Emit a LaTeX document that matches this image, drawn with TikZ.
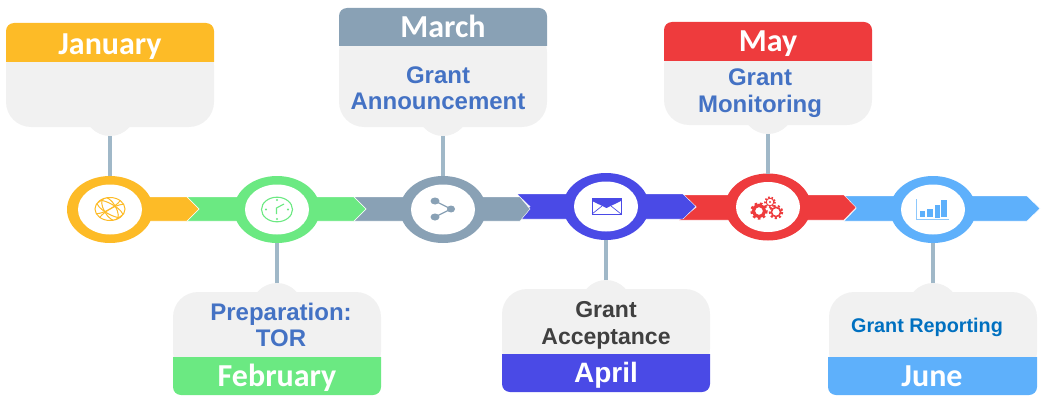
\documentclass[tikz,border=0pt]{standalone}
\usepackage{fontspec}
\setmainfont{Liberation Sans}
\newfontfamily\monthfont{Carlito}
\usetikzlibrary{shapes.geometric,positioning}

\definecolor{janc}{HTML}{FDBB27}
\definecolor{febc}{HTML}{6BE982}
\definecolor{marc}{HTML}{89A1B5}
\definecolor{aprc}{HTML}{4A4AE6}
\definecolor{mayc}{HTML}{EE3B3D}
\definecolor{junc}{HTML}{5EB0FB}
\definecolor{cardc}{HTML}{F1F1F1}
\definecolor{linkc}{HTML}{A0B8C8}
\definecolor{taskc}{HTML}{4472C4}
\definecolor{reportc}{HTML}{0070C0}

\begin{document}
\begin{tikzpicture}[
		x=1pt, y=-1pt,
		% Styles
		cardbody/.style={rectangle, fill=cardc, rounded corners=25pt, minimum width=208pt, inner sep=0pt, outer sep=0pt},
		cardtab/.style={circle, fill=cardc, minimum size=52pt, inner sep=0pt, outer sep=0pt},
		hub/.style={ellipse, minimum width=86pt, minimum height=67pt, inner sep=0pt, outer sep=0pt},
		hole/.style={ellipse, fill=white, minimum width=64pt, minimum height=50pt, inner sep=0pt, outer sep=0pt},
		month/.style={font=\monthfont\fontsize{32}{35}\selectfont\bfseries, text=white, inner sep=0pt},
		task/.style={font=\fontsize{24}{26.5}\selectfont\bfseries, text=taskc, align=center, inner sep=0pt},
		band/.style={draw=white, line width=0.4pt},
		% Arrows
		link/.style={line width=3.7pt, linkc},
		]
		\useasboundingbox (0,0) rectangle (1046,396);

		% Cards above the line
		\node[cardtab] (tab1) at (110,110) {};
		\node[cardbody, minimum height=87pt] (body1) at (110,83.5) {};
		\fill[janc] (6,62) {[rounded corners=8pt] -- (6,23) -- (214,23)} -- (214,62) -- cycle;
		\node[month] (head1) at (110,46.5) {January};

		\node[cardtab] (tab3) at (443,110) {};
		\node[cardbody, minimum height=100pt] (body3) at (443,77) {};
		\fill[marc] (339,46) {[rounded corners=8pt] -- (339,8) -- (547,8)} -- (547,46) -- cycle;
		\node[month] (head3) at (443,26) {March};
		\node[task] (text3) at (438,88) {Grant\\Announcement};

		\node[cardtab] (tab5) at (768,108) {};
		\node[cardbody, minimum height=85pt] (body5) at (768,82.5) {};
		\fill[mayc] (664,61) {[rounded corners=8pt] -- (664,22) -- (872,22)} -- (872,61) -- cycle;
		\node[month] (head5) at (768,44) {May};
		\node[task, font=\fontsize{24}{27}\selectfont\bfseries] (text5) at (760,93.5) {Grant\\Monitoring};

		% Cards below the line
		\node[cardtab] (tab2) at (277,309) {};
		\node[cardbody, minimum height=85pt] (body2) at (277,334.5) {};
		\fill[febc] (173,357) {[rounded corners=8pt] -- (173,395) -- (381,395)} -- (381,357) -- cycle;
		\node[month] (head2) at (277,378) {February};
		\node[task] (text2) at (281,325) {Preparation:\\TOR};

		\node[cardtab] (tab4) at (606,306) {};
		\node[cardbody, minimum height=85pt] (body4) at (606,331.5) {};
		\fill[aprc] (502,354) {[rounded corners=8pt] -- (502,392) -- (710,392)} -- (710,354) -- cycle;
		\node[month, font=\fontsize{28}{30}\selectfont\bfseries] (head4) at (606,375) {April};
		\node[task, font=\fontsize{23}{27}\selectfont\bfseries, text=black!75] (text4) at (606,325) {Grant\\Acceptance};

		\node[cardtab] (tab6) at (933,309) {};
		\node[cardbody, minimum height=85pt] (body6) at (933,334.5) {};
		\fill[junc] (828,357) {[rounded corners=8pt] -- (828,395) -- (1037,395)} -- (1037,357) -- cycle;
		\node[month] (head6) at (932,376.5) {June};
		\node[task, font=\fontsize{19.8}{22}\selectfont\bfseries, text=reportc] (text6) at (927,327.5) {Grant Reporting};

		% Bands, last month first
		\fill[junc, band] (844,196) -- (856,208.5) -- (844,221) -- (1027,221) -- (1040,208.5) -- (1027,196) -- cycle;
		\fill[mayc, band] (679,195) -- (696,207.5) -- (679,220) -- (844,220) -- (856,207.5) -- (844,195) -- cycle;
		\fill[aprc, band] (517,194) -- (530,206.5) -- (517,219) -- (683,219) -- (696,206.5) -- (683,194) -- cycle;
		\fill[marc, band] (354,197) -- (366,209) -- (354,221) -- (520,221) -- (530,209) -- (520,197) -- cycle;
		\fill[febc, band] (187,197) -- (199,209) -- (187,221) -- (354,221) -- (366,209) -- (354,197) -- cycle;
		\fill[janc, band] (110,197) -- (187,197) -- (199,209) -- (187,221) -- (110,221) -- cycle;

		% Hubs
		\node[hub, fill=janc] (hub1) at (110,209.5) {};
		\node[hole] (hole1) at (hub1) {};
		\node[hub, fill=febc] (hub2) at (277,209.5) {};
		\node[hole] (hole2) at (hub2) {};
		\node[hub, fill=marc] (hub3) at (443,209.5) {};
		\node[hole] (hole3) at (hub3) {};
		\node[hub, fill=aprc] (hub4) at (606,206.5) {};
		\node[hole] (hole4) at (hub4) {};
		\node[hub, fill=mayc] (hub5) at (768,207) {};
		\node[hole] (hole5) at (hub5) {};
		\node[hub, fill=junc] (hub6) at (933,209.5) {};
		\node[hole] (hole6) at (hub6) {};

		% Connections
		\draw[link] (tab1.south) -- (hub1.north);
		\draw[link] (tab2.north) -- (hub2.south);
		\draw[link] (tab3.south) -- (hub3.north);
		\draw[link] (tab4.north) -- (hub4.south);
		\draw[link] (tab5.south) -- (hub5.north);
		\draw[link] (tab6.north) -- (hub6.south);

		% Globe
		\begin{scope}[janc, line width=1pt]
			\draw (110,209) ellipse (15 and 11.5);
			\clip (110,209) ellipse (15 and 11.5);
			\draw[rotate around={-30:(110,209)}] (110,209) ellipse (15 and 5);
			\draw[rotate around={30:(110,209)}] (110,203) ellipse (17 and 6);
			\draw[rotate around={30:(110,209)}] (110,215) ellipse (17 and 6);
			\draw[rotate around={-60:(110,209)}] (110,209) ellipse (13 and 6);
		\end{scope}

		% Clock
		\draw[febc, line width=1.1pt] (277,209.5) ellipse (15.5 and 12.3);
		\draw[febc, line width=1.1pt] (276.5,214) -- (276.5,208) -- (284,204);
		\fill[febc] (277,200) circle (1.1) (277,219) circle (1.1) (266,209.5) circle (1.1) (288,209.5) circle (1.1);

		% Share
		\draw[marc, line width=1.2pt] (435,201) -- (451,209) -- (435,217);
		\fill[marc] (435,201) ellipse (4.5 and 3.5) (435,217) ellipse (4.5 and 3.5) (451,209) ellipse (4 and 3.5);

		% Envelope
		\draw[aprc, line width=0.9pt] (592,198.5) rectangle (621,214);
		\fill[aprc] (592,198) -- (621,198) -- (621,201) -- (606.5,208) -- (592,201) -- cycle;
		\draw[aprc, line width=0.7pt] (592,214) -- (602,206) (621,214) -- (611,206);

		% Gears
		\begin{scope}[mayc]
			\draw[line width=3.2pt] (759,211) circle (5.6);
			\draw[line width=2.2pt, dash pattern=on 2.6pt off 2.6pt] (759,211) circle (7.6);
			\draw[line width=1.6pt] (776,212) circle (4.6);
			\draw[line width=2pt, dash pattern=on 2.2pt off 2.2pt] (776,212) circle (6.2);
			\draw[line width=0.9pt] (770,202) circle (3.8);
			\draw[line width=1.8pt, dash pattern=on 1.6pt off 1.9pt] (770,202) circle (5);
			\fill (770,202) circle (1.1);
		\end{scope}

		% Bars
		\draw[junc!70, line width=0.8pt] (916,199) -- (916,219.5) -- (949,219.5);
		\fill[junc] (920,211) rectangle (925,217);
		\fill[junc] (927,209) rectangle (933,217);
		\fill[junc] (935,205) rectangle (940,217.5);
		\fill[junc] (941,200) rectangle (947,217);

	\end{tikzpicture}
\end{document}
